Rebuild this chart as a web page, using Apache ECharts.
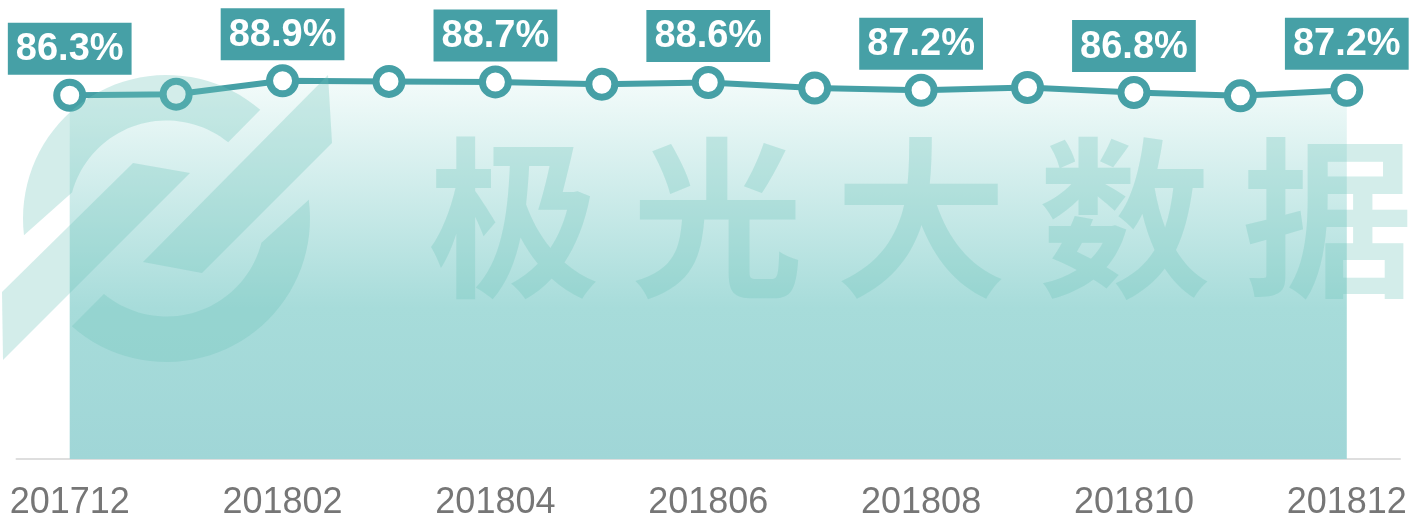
<!DOCTYPE html>
<html>
<head>
<meta charset="utf-8">
<title>201712-201812</title>
<script src="https://cdn.jsdelivr.net/npm/echarts@6/dist/echarts.min.js"></script>
<style>
  html, body { margin: 0; padding: 0; background: #fff; }
  #chart { width: 1425px; height: 522px; }
</style>
</head>
<body>
<div id="chart"></div>
<script>
// 数据
const months = ['201712', '201801', '201802', '201803', '201804', '201805', '201806',
  '201807', '201808', '201809', '201810', '201811', '201812'];
const rates = [86.3, 86.5, 88.9, 88.8, 88.7, 88.3, 88.6, 87.6, 87.2, 87.7, 86.8, 86.2, 87.2];
const watermarkChars = ['极', '光', '大', '数', '据'];

const mainColor = '#46a0a6';
const markColor = 'rgba(108, 197, 184, 0.3)';

// 水印 logo 的圆环 (屏幕坐标下的角度)
const arcPoints = (cx, cy, r, a1, a2) => {
  const pts = [];
  const n = 40;
  for (let i = 0; i <= n; i++) {
    const a = (a1 + (a2 - a1) * i / n) * Math.PI / 180;
    pts.push([cx + r * Math.cos(a), cy + r * Math.sin(a)]);
  }
  return pts;
};
const ringPart = (o1, o2, i1, i2) => {
  const cx = 166.5, cy = 218.5;
  return arcPoints(cx, cy, 143.5, o1, o2).concat(arcPoints(cx, cy, 98, i1, i2));
};

const watermark = [
  { type: 'polygon', z: 10, silent: true, shape: { points: ringPart(173.3, 310.8, 309, 195.4) }, style: { fill: markColor } },
  { type: 'polygon', z: 10, silent: true, shape: { points: ringPart(-7.5, 131.3, 129.7, 14.4) }, style: { fill: markColor } },
  { type: 'polygon', z: 10, silent: true, shape: { points: [[2, 292], [133, 163], [190, 173], [3, 360]] }, style: { fill: markColor } },
  { type: 'polygon', z: 10, silent: true, shape: { points: [[143, 262], [328, 75], [332, 143], [202, 273]] }, style: { fill: markColor } }
].concat(watermarkChars.map((ch, i) => ({
  type: 'text',
  z: 10,
  silent: true,
  x: 514 + i * 203.5,
  y: 218,
  style: {
    text: ch,
    fill: markColor,
    font: 'bold 172px "Noto Sans CJK SC"',
    textAlign: 'center',
    textVerticalAlign: 'middle',
    align: 'center',
    verticalAlign: 'middle'
  }
})));

const chart = echarts.init(document.getElementById('chart'));
chart.setOption({
  animation: false,
  grid: { left: 16.5, right: 25, top: 19, bottom: 63 },
  xAxis: {
    type: 'category',
    data: months,
    boundaryGap: true,
    axisLine: { lineStyle: { color: '#dedede', width: 2 } },
    axisTick: { show: false },
    axisLabel: {
      interval: 1,
      margin: 26,
      color: '#767676',
      fontSize: 36,
      fontFamily: '"Liberation Sans", Arial, sans-serif'
    }
  },
  yAxis: {
    type: 'value',
    min: 21,
    max: 100,
    show: false
  },
  graphic: watermark,
  series: [{
    type: 'line',
    data: rates.map((v, i) => ({ value: v, label: { show: i % 2 === 0 } })),
    symbol: 'circle',
    symbolSize: 26,
    itemStyle: { color: '#fff', borderColor: mainColor, borderWidth: 7 },
    lineStyle: { color: mainColor, width: 6 },
    areaStyle: {
      opacity: 1,
      color: new echarts.graphic.LinearGradient(0, 0, 0, 1, [
        { offset: 0, color: '#f3fbfa' },
        { offset: 0.6, color: '#a7dcda' },
        { offset: 1, color: '#a0d6d7' }
      ])
    },
    label: {
      position: 'top',
      distance: 4,
      formatter: '{c}%',
      color: '#fff',
      fontSize: 38,
      fontWeight: 'bold',
      fontFamily: '"Liberation Sans", Arial, sans-serif',
      lineHeight: 38,
      backgroundColor: mainColor,
      padding: [8, 8, 6, 8]
    },
    emphasis: { disabled: true }
  }]
});

window.addEventListener('resize', () => chart.resize());
</script>
</body>
</html>
